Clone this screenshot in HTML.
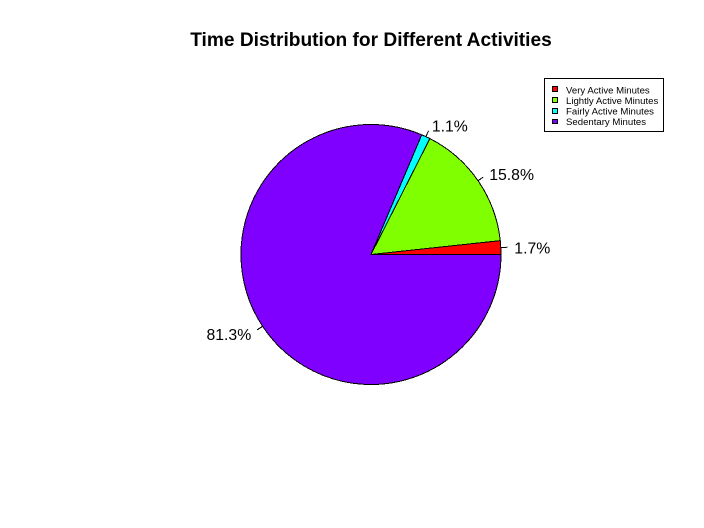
<!DOCTYPE html>
<html>
<head>
<meta charset="utf-8">
<style>
html,body{margin:0;padding:0;background:#fff;width:704px;height:528px;overflow:hidden}
svg{display:block}
text{font-family:"Liberation Sans",Arial,sans-serif;fill:#000}
</style>
</head>
<body>
<svg id="chart" xmlns="http://www.w3.org/2000/svg" width="704" height="528" viewBox="0 0 704 528">
  <rect x="0" y="0" width="704" height="528" fill="#fff"/>
  <text x="371" y="46" text-anchor="middle" font-size="19.15" font-weight="bold">Time Distribution for Different Activities</text>
  <g id="slices"></g>
  <g id="labels"></g>
  <g id="legend">
    <rect x="544.5" y="78.5" width="119" height="53" fill="#fff" stroke="#000" stroke-width="1" shape-rendering="crispEdges"/>
  </g>
</svg>
<script>
const categories = ['Very Active Minutes', 'Lightly Active Minutes', 'Fairly Active Minutes', 'Sedentary Minutes'];
const values = [1.7, 15.8, 1.1, 81.3];
const printedValues = ['1.7%', '15.8%', '1.1%', '81.3%'];
const colors = ['#ff0000', '#80ff00', '#00ffff', '#8000ff'];

const NS = 'http://www.w3.org/2000/svg';
const cx = 371, cy = 254.5, radius = 130;
const total = values.reduce((a, b) => a + b, 0);
const slicesGroup = document.getElementById('slices');
const labelsGroup = document.getElementById('labels');
const legendGroup = document.getElementById('legend');

function px(angle, r) { return cx + r * Math.cos(angle); }
function py(angle, r) { return cy - r * Math.sin(angle); }

let cumulative = 0;
values.forEach((v, i) => {
  const a0 = cumulative / total * 2 * Math.PI;
  cumulative += v;
  const a1 = cumulative / total * 2 * Math.PI;
  const mid = (a0 + a1) / 2;
  const large = (a1 - a0) > Math.PI ? 1 : 0;

  const slice = document.createElementNS(NS, 'path');
  
  
  slice.setAttribute('d', `M${cx} ${cy}L${px(a0, radius)} ${py(a0, radius)}A${radius} ${radius} 0 ${large} 0 ${px(a1, radius)} ${py(a1, radius)}Z`);
  slice.setAttribute('fill', colors[i]);
  slice.setAttribute('stroke', '#000');
  slice.setAttribute('stroke-width', '1');
  slice.setAttribute('shape-rendering', 'crispEdges');
  slicesGroup.appendChild(slice);

  const tick = document.createElementNS(NS, 'line');
  
  
  tick.setAttribute('x1', px(mid, radius));
  tick.setAttribute('y1', py(mid, radius));
  tick.setAttribute('x2', px(mid, radius * 1.05));
  tick.setAttribute('y2', py(mid, radius * 1.05));
  tick.setAttribute('stroke', '#000');
  tick.setAttribute('stroke-width', '1');
  tick.setAttribute('shape-rendering', 'crispEdges');
  labelsGroup.appendChild(tick);

  const label = document.createElementNS(NS, 'text');
  
  
  label.setAttribute('x', px(mid, radius * 1.1) + (Math.cos(mid) >= 0 ? 0.5 : -0.5));
  label.setAttribute('y', py(mid, radius * 1.1) + 6.6);
  label.setAttribute('font-size', '15.8');
  label.setAttribute('text-anchor', Math.cos(mid) >= 0 ? 'start' : 'end');
  label.textContent = printedValues[i];
  labelsGroup.appendChild(label);

  const swatch = document.createElementNS(NS, 'rect');
  
  
  swatch.setAttribute('x', 552.5);
  swatch.setAttribute('y', 86.5 + i * 11);
  swatch.setAttribute('width', 5);
  swatch.setAttribute('height', i === categories.length - 1 ? 4 : 5);
  swatch.setAttribute('fill', colors[i]);
  swatch.setAttribute('stroke', '#000');
  swatch.setAttribute('shape-rendering', 'crispEdges');
  legendGroup.appendChild(swatch);

  const entry = document.createElementNS(NS, 'text');
  
  
  entry.setAttribute('x', 566);
  entry.setAttribute('y', 93.5 + i * 10.5);
  entry.setAttribute('font-size', '9.6');
  entry.textContent = categories[i];
  legendGroup.appendChild(entry);
});
</script>
</body>
</html>
